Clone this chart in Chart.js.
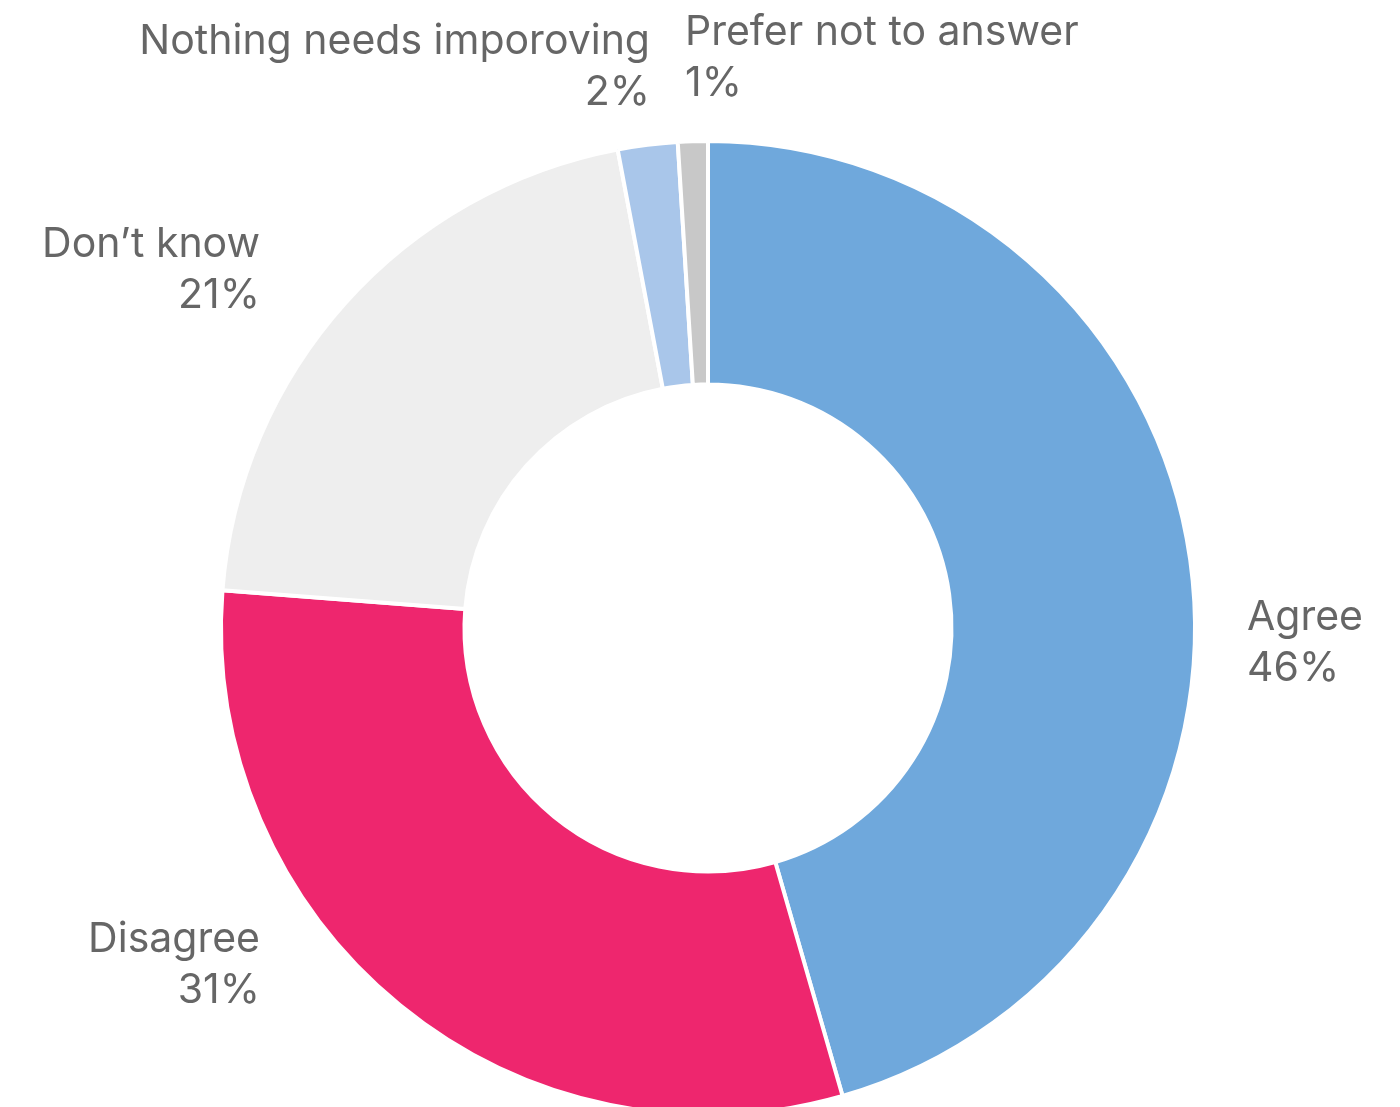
<!DOCTYPE html>
<html>
<head>
<meta charset="utf-8">
<script src="https://cdn.jsdelivr.net/npm/chart.js@4.4.1/dist/chart.umd.min.js"></script>
<style>
  html, body { margin: 0; padding: 0; background: #ffffff; overflow: hidden; }
  #wrap { position: relative; width: 1400px; height: 1256px; }
</style>
</head>
<body>
<div id="wrap"><canvas id="c"></canvas></div>
<script>
// Survey responses (percent)
const categories = ["Agree", "Disagree", "Don\u2019t know", "Nothing needs imporoving", "Prefer not to answer"];
const shares = [46, 31, 21, 2, 1];
const sliceColors = ["#6FA8DC", "#EE266E", "#EEEEEE", "#A9C6EA", "#C8C8C8"];

// Where each label's first line sits, relative to the ring centre, and its alignment
const labelSpots = [
  { dx: 539, dy: -10, align: "left" },
  { dx: -448, dy: 312, align: "right" },
  { dx: -448, dy: -383, align: "right" },
  { dx: -58, dy: -586, align: "right" },
  { dx: -23, dy: -595, align: "left" }
];

const sliceLabels = {
  id: "sliceLabels",
  afterDraw(chart) {
    const ctx = chart.ctx;
    const arc = chart.getDatasetMeta(0).data[0];
    const cx = arc.x, cy = arc.y;
    ctx.save();
    ctx.fillStyle = "#666666";
    ctx.font = "41px Inter, 'Noto Sans', sans-serif";
    ctx.textBaseline = "middle";
    chart.data.labels.forEach((name, i) => {
      const s = labelSpots[i];
      ctx.textAlign = s.align;
      const val = chart.data.datasets[0].data[i];
      ctx.fillText(name, cx + s.dx, cy + s.dy);
      ctx.fillText(val + "%", cx + s.dx, cy + s.dy + 51);
    });
    ctx.restore();
  }
};

new Chart(document.getElementById("c"), {
  type: "doughnut",
  data: {
    labels: categories,
    datasets: [{
      data: shares,
      backgroundColor: sliceColors,
      borderColor: "#ffffff",
      borderWidth: 4,
      hoverOffset: 0
    }]
  },
  options: {
    responsive: true,
    maintainAspectRatio: false,
    animation: false,
    radius: 487,
    cutout: "50%",
    layout: { padding: { left: 16, right: 0, top: 0, bottom: 0 } },
    plugins: {
      legend: { display: false },
      tooltip: { enabled: false }
    }
  },
  plugins: [sliceLabels]
});
</script>
</body>
</html>
